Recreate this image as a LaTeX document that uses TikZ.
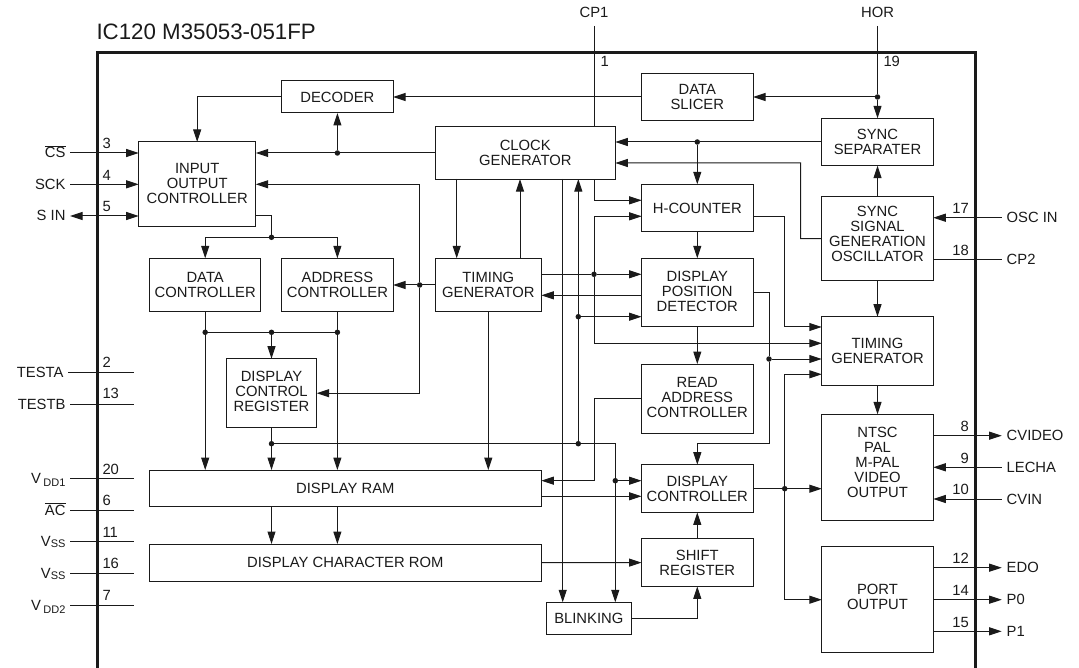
\documentclass[tikz,border=0pt]{standalone}
\usepackage{fontspec}
\setmainfont{Liberation Sans}
\usetikzlibrary{arrows.meta, positioning}
\definecolor{ink}{HTML}{1A1A1A}
\newcommand{\blockfont}{\fontsize{14.8}{15}\selectfont}
\newcommand{\pinsub}[2]{\raisebox{#1}{\fontsize{11}{11}\selectfont #2}}
\newcommand{\uplift}[1]{\\[#1]\mbox{}}

\begin{document}
\begin{tikzpicture}[
  x=1pt, y=-1pt, font=\blockfont, text=ink,
  line width=1pt, draw=ink,
  blk/.style  ={draw=ink, align=center, inner sep=0pt, outer sep=0pt},
  unit/.style ={blk, minimum width=111.5pt},
  arr/.style  ={-{Triangle[length=12.5pt,width=8pt]}, line width=1pt, draw=ink},
  arrb/.style ={{Triangle[length=12.5pt,width=8pt]}-{Triangle[length=12.5pt,width=8pt]}, line width=1pt, draw=ink},
  dot/.style  ={circle, fill=ink, inner sep=0pt, minimum size=5.5pt, outer sep=0pt},
  pinl/.style ={anchor=east, inner xsep=4.5pt, inner ysep=0pt, text height=10pt, text depth=0pt, outer sep=0pt},
  pinr/.style ={anchor=west, inner xsep=5pt, inner ysep=0pt, text height=10pt, text depth=0pt, outer sep=0pt},
  pint/.style ={inner xsep=0pt, inner ysep=8pt, text height=10pt, text depth=0pt, outer sep=0pt},
  numl/.style ={anchor=west, inner sep=0pt},
  numr/.style ={anchor=east, inner sep=0pt}
]
\useasboundingbox (0,0) rectangle (1079,668);

% package outline, open at the bottom
\coordinate (fa) at (97,668);
\coordinate (fb) at (97,52.5);
\coordinate (fc) at (975.7,52.5);
\coordinate (fd) at (975.7,668);
\draw[line width=3pt, miter limit=10] (fa) -- (fb) -- (fc) -- (fd);
\node[anchor=west, inner sep=0pt, font=\fontsize{22.3}{24}\selectfont] (title) at (96,32) {IC120 M35053-051FP};

% blocks
\node[unit, minimum height=32pt] (dec) at (337.4,97) {DECODER};
\node[blk, minimum width=117pt, minimum height=84.7pt] (ioc) at (197.2,184.3) {INPUT\\OUTPUT\\CONTROLLER\uplift{-13pt}};
\node[unit, minimum height=53.4pt] (datac) at (205.2,285) {DATA\\CONTROLLER};
\node[unit, minimum height=53.4pt] (addrc) at (337.4,285) {ADDRESS\\CONTROLLER};
\node[blk, minimum width=90.4pt, minimum height=69pt] (dcr) at (271.5,393.2) {DISPLAY\\CONTROL\\REGISTER\uplift{-11pt}};
\node[blk, minimum width=392pt, minimum height=36.7pt] (ram) at (345.3,488.4) {DISPLAY RAM};
\node[blk, minimum width=392pt, minimum height=37pt, below=37.3pt of ram] (rom) {DISPLAY CHARACTER ROM};
\node[blk, minimum width=180pt, minimum height=52.7pt] (clk) at (525.3,152.7) {CLOCK\\GENERATOR};
\node[blk, minimum width=106pt, minimum height=53.4pt] (tgl) at (488.3,285) {TIMING\\GENERATOR};
\node[blk, minimum width=85pt, minimum height=31.7pt] (blink) at (588.8,618.2) {BLINKING};

\node[unit, minimum height=47.4pt] (slicer) at (697.3,97) {DATA\\SLICER};
\node[unit, minimum height=47.7pt, below=63.6pt of slicer] (hcnt) {H-COUNTER};
\node[unit, minimum height=68.7pt, below=26.3pt of hcnt] (dpd) {DISPLAY\\POSITION\\DETECTOR\uplift{-13pt}};
\node[unit, minimum height=69pt, below=37pt of dpd] (rac) {READ\\ADDRESS\\CONTROLLER\uplift{-13pt}};
\node[unit, minimum height=47.7pt, below=31.7pt of rac] (dsp) {DISPLAY\\CONTROLLER};
\node[unit, minimum height=47.6pt, below=26.4pt of dsp] (shift) {SHIFT\\REGISTER};

\node[unit, minimum height=47.4pt] (sep) at (877.5,142) {SYNC\\SEPARATER};
\node[unit, minimum height=84.7pt, below=30.6pt of sep] (osc) {SYNC\\SIGNAL\\GENERATION\\OSCILLATOR\uplift{-6pt}};
\node[unit, minimum height=68.3pt, below=35.7pt of osc] (tgr) {TIMING\\GENERATOR};
\node[unit, minimum height=106pt, below=29.3pt of tgr] (ntsc) {NTSC\\PAL\\M-PAL\\VIDEO\\OUTPUT\uplift{-6pt}};
\node[unit, minimum height=106pt, below=26.4pt of ntsc] (port) {PORT\\OUTPUT\uplift{-10pt}};

% junctions
\node[dot] (ja) at (337.4,153) {};
\node[dot] (jb) at (271.5,237.3) {};
\node[dot] (jc) at (205.2,332.3) {};
\node[dot] (jd) at (271.5,332.3) {};
\node[dot] (je) at (337.4,332.3) {};
\node[dot] (jf) at (271.5,443.7) {};
\node[dot] (jg) at (578.3,443.7) {};
\node[dot] (jh) at (615.3,480.7) {};
\node[dot] (ji) at (419.7,285) {};
\node[dot] (jj) at (594,274.3) {};
\node[dot] (jk) at (578.3,316.7) {};
\node[dot] (jl) at (697.3,142) {};
\node[dot] (jm) at (877.5,97) {};
\node[dot] (jn) at (769,359) {};
\node[dot] (jo) at (784.7,488.7) {};

% connection points on the blocks
\coordinate (iocout) at (255.7,216);
\coordinate (clkd) at (456.7,179);
\coordinate (clkb) at (562.7,179);
\coordinate (tglu) at (520,258.3);
\coordinate (clkin) at (615.3,163);
\coordinate (oscturn) at (800.7,238.7);
\coordinate (hcina) at (641.7,200.3);
\coordinate (hcinb) at (641.7,216.3);
\coordinate (hcout) at (753,216.3);
\coordinate (dpdback) at (641.7,295.3);
\coordinate (ramout) at (541.3,496.3);
\coordinate (tga) at (821.8,327);
\coordinate (tgb) at (821.8,343.3);
\coordinate (tgd) at (821.8,374.3);
\coordinate (portin) at (821.8,599.7);

% left pins
\node[pinl] (cs) at (70,153) {$\overline{\mbox{CS}}$};
\node[pinl] (sck) at (70,184.3) {SCK};
\node[pinl] (sin) at (70,216) {S IN};
\node[pinl, xshift=-2pt] (testa) at (70,372.3) {TESTA};
\node[pinl] (testb) at (70,404) {TESTB};
\node[pinl] (vdda) at (70,478) {V\,\pinsub{-3.5pt}{DD1}};
\node[pinl] (ac) at (70,510) {$\overline{\mbox{AC}}$};
\node[pinl] (vssa) at (70,541.7) {V\pinsub{-1pt}{SS}};
\node[pinl] (vssb) at (70,573.3) {V\pinsub{-1pt}{SS}};
\node[pinl] (vddb) at (70,605.3) {V\,\pinsub{-3.5pt}{DD2}};
\coordinate (testaend) at (134,372.3);
\coordinate (testbend) at (134,404);
\coordinate (vddaend) at (134,478);
\coordinate (acend) at (134,510);
\coordinate (vssaend) at (134,541.7);
\coordinate (vssbend) at (134,573.3);
\coordinate (vddbend) at (134,605.3);
\node[numl] (na) at (102,143) {3};
\node[numl] (nb) at (102,175) {4};
\node[numl] (nc) at (102,206) {5};
\node[numl] (nd) at (102,362.7) {2};
\node[numl] (ne) at (102,393.5) {13};
\node[numl] (nf) at (102,469) {20};
\node[numl] (ng) at (102,500) {6};
\node[numl] (nh) at (102,532) {11};
\node[numl] (ni) at (102,563.7) {16};
\node[numl] (nj) at (102,595.7) {7};
\draw[arr] (cs) -- (cs -| ioc.west);
\draw[arr] (sck) -- (sck -| ioc.west);
\draw[arrb] (sin) -- (sin -| ioc.west);
\draw (testa) -- (testaend);
\draw (testb) -- (testbend);
\draw (vdda) -- (vddaend);
\draw (ac) -- (acend);
\draw (vssa) -- (vssaend);
\draw (vssb) -- (vssbend);
\draw (vddb) -- (vddbend);

% top pins
\node[pint] (cp) at (594,13) {CP1};
\node[pint] (hor) at (877.5,13) {HOR};
\node[numl] (nk) at (600,61) {1};
\node[numl] (nl) at (883,61) {19};
\draw (cp) -- (cp |- clk.north);
\draw (hor) -- (jm);

% right pins
\node[pinr] (oscin) at (1001.7,217.7) {OSC IN};
\node[pinr] (cpb) at (1001.7,259.7) {CP2};
\node[pinr] (cvideo) at (1001.7,435.7) {CVIDEO};
\node[pinr] (lecha) at (1001.7,467.3) {LECHA};
\node[pinr] (cvin) at (1001.7,499) {CVIN};
\node[pinr] (edo) at (1001.7,567.7) {EDO};
\node[pinr] (pa) at (1001.7,599.7) {P0};
\node[pinr] (pb) at (1001.7,631.3) {P1};
\node[numr] (nm) at (969.3,208) {17};
\node[numr] (nn) at (969.3,250) {18};
\node[numr] (no) at (969.3,426) {8};
\node[numr] (np) at (969.3,458) {9};
\node[numr] (nq) at (969.3,489) {10};
\node[numr] (nr) at (969.3,558) {12};
\node[numr] (ns) at (969.3,590) {14};
\node[numr] (nt) at (969.3,622) {15};
\draw[arr] (oscin) -- (oscin -| osc.east);
\draw (cpb -| osc.east) -- (cpb);
\draw[arr] (cvideo -| ntsc.east) -- (cvideo);
\draw[arr] (lecha) -- (lecha -| ntsc.east);
\draw[arr] (cvin) -- (cvin -| ntsc.east);
\draw[arr] (edo -| port.east) -- (edo);
\draw[arr] (pa -| port.east) -- (pa);
\draw[arr] (pb -| port.east) -- (pb);

% input side
\draw[arr] (jm) -- (slicer.east);
\draw[arr] (slicer.west) -- (dec.east);
\draw[arr] (dec.west) -| (ioc.north);
\draw (ja -| clk.west) -- (ja);
\draw[arr] (ja) -- (ja -| ioc.east);
\draw[arr] (ja) -- (dec.south);
\draw (iocout) -| (jb);
\draw[arr] (jb) -| (datac.north);
\draw[arr] (jb) -| (addrc.north);
\draw (tgl.west) -- (ji);
\draw[arr] (ji) -- (addrc.east);
\draw[arr] (ji) |- (ioc.east);
\draw[arr] (ji) |- (dcr.east);

% into the display RAM
\draw (datac.south) -- (jc);
\draw[arr] (jc) -- (jc |- ram.north);
\draw (addrc.south) -- (je);
\draw[arr] (je) -- (je |- ram.north);
\draw (jc) -- (jd);
\draw (jd) -- (je);
\draw[arr] (jd) -- (dcr.north);
\draw (dcr.south) -- (jf);
\draw[arr] (jf) -- (jf |- ram.north);
\draw[arr] (jf |- ram.south) -- (jf |- rom.north);
\draw[arr] (je |- ram.south) -- (je |- rom.north);
\draw[arr] (tgl.south) -- (tgl.south |- ram.north);

% clock and timing
\draw[arr] (clkd) -- (clkd |- tgl.north);
\draw[arr] (tglu) -- (tglu |- clk.south);
\draw[arr] (clkb) -- (clkb |- blink.north);
\draw (jf) -- (jg);
\draw (jg) -| (jh);
\draw[arr] (jh) -- (jh |- blink.north);
\draw[arr] (jh) -- (jh -| dsp.west);
\draw (jg) -- (jk);
\draw[arr] (jk) -- (jk |- clk.south);
\draw[arr] (jk) -- (jk -| dpd.west);
\draw (jj -| tgl.east) -- (jj);
\draw[arr] (jj) -- (jj -| dpd.west);
\draw[arr] (dpdback) -- (dpdback -| tgl.east);
\draw[arr] (jj) |- (hcinb);
\draw[arr] (jj) |- (tgb);
\draw[arr] (cp |- clk.south) |- (hcina);
\draw (sep.west) -- (jl);
\draw[arr] (jl) -- (jl -| clk.east);
\draw[arr] (jl) -- (hcnt.north);
\draw[arr] (osc.west) -- (oscturn) |- (clkin);
\draw[arr] (jm) -- (sep.north);
\draw[arr] (osc.north) -- (sep.south);
\draw[arr] (osc.south) -- (tgr.north);
\draw[arr] (tgr.south) -- (ntsc.north);

% display path
\draw[arr] (hcnt.south) -- (dpd.north);
\draw[arr] (dpd.south) -- (rac.north);
\draw[arr] (rac.west) -| (cp |- jh) -- (jh -| ram.east);
\draw[arr] (ramout) -- (ramout -| dsp.west);
\draw[arr] (rom.east) -- (shift.west);
\draw[arr] (blink.east) -| (shift.south);
\draw[arr] (shift.north) -- (dsp.south);
\draw (dpd.east) -| (jn);
\draw[arr] (jn) -- (jn -| tgr.west);
\draw[arr] (jn) |- (jg -| dsp.north) -- (dsp.north);
\draw[arr] (hcout) -| (jo |- tga) -- (tga);
\draw (dsp.east |- jo) -- (jo);
\draw[arr] (jo) -- (jo -| ntsc.west);
\draw[arr] (jo) |- (tgd);
\draw[arr] (jo) |- (portin);
\end{tikzpicture}
\end{document}
